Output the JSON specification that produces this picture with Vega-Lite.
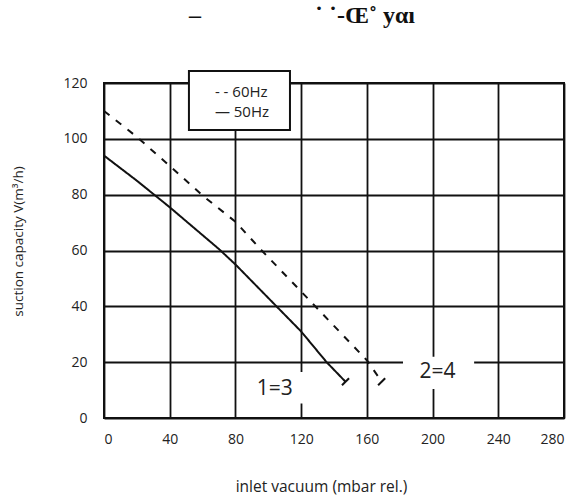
{
  "$schema": "https://vega.github.io/schema/vega-lite/v6.json",
  "width": 460,
  "height": 335,
  "autosize": {"type": "none"},
  "padding": {"left": 104, "top": 83, "right": 20, "bottom": 81},
  "background": "white",
  "title": {
    "text": "–\u00a0\u00a0\u00a0\u00a0\u00a0\u00a0\u00a0\u00a0\u00a0\u00a0\u00a0\u00a0\u00a0\u00a0\u00a0\u00a0\u00a0\u00a0\u00a0˙\u00a0˙-Œ˚ yαı",
    "anchor": "middle",
    "dx": -32,
    "offset": 42,
    "font": "Liberation Serif",
    "fontSize": 24,
    "fontWeight": "bold",
    "color": "#111"
  },
  "config": {
    "view": {"stroke": "#111", "strokeWidth": 2},
    "axis": {
      "grid": true,
      "gridColor": "#111",
      "gridWidth": 1.8,
      "gridOpacity": 1,
      "domain": false,
      "ticks": false,
      "labelFont": "Open Sans",
      "labelFontSize": 14,
      "labelColor": "#222",
      "titleFont": "Open Sans",
      "titleFontSize": 13.5,
      "titleFontWeight": "normal",
      "titleColor": "#222"
    }
  },
  "datasets": {
    "curves": [
      {"freq": "50Hz", "vacuum": 0, "capacity": 94},
      {"freq": "50Hz", "vacuum": 20, "capacity": 85},
      {"freq": "50Hz", "vacuum": 40, "capacity": 75.5},
      {"freq": "50Hz", "vacuum": 58, "capacity": 66.5},
      {"freq": "50Hz", "vacuum": 70, "capacity": 60.5},
      {"freq": "50Hz", "vacuum": 80, "capacity": 55},
      {"freq": "50Hz", "vacuum": 105, "capacity": 40},
      {"freq": "50Hz", "vacuum": 120, "capacity": 31},
      {"freq": "50Hz", "vacuum": 135.5, "capacity": 20},
      {"freq": "50Hz", "vacuum": 147, "capacity": 13},
      {"freq": "60Hz", "vacuum": 0, "capacity": 110},
      {"freq": "60Hz", "vacuum": 20, "capacity": 100.7},
      {"freq": "60Hz", "vacuum": 40, "capacity": 90.3},
      {"freq": "60Hz", "vacuum": 60, "capacity": 79.7},
      {"freq": "60Hz", "vacuum": 80, "capacity": 70.3},
      {"freq": "60Hz", "vacuum": 96, "capacity": 60},
      {"freq": "60Hz", "vacuum": 120, "capacity": 45.3},
      {"freq": "60Hz", "vacuum": 140, "capacity": 33},
      {"freq": "60Hz", "vacuum": 160, "capacity": 20.7},
      {"freq": "60Hz", "vacuum": 169, "capacity": 13}
    ],
    "labels": [
      {"label": "1=3", "vacuum": 104, "capacity": 10.4},
      {"label": "2=4", "vacuum": 203, "capacity": 16.4}
    ],
    "legend": [
      {"entry": "- - 60Hz", "vacuum": 67.5, "capacity": 116.6},
      {"entry": "— 50Hz", "vacuum": 67.5, "capacity": 109.6}
    ]
  },
  "layer": [
    {
      "data": {"name": "curves"},
      "mark": {"type": "line", "color": "#111", "strokeWidth": 2},
      "encoding": {
        "x": {
          "field": "vacuum",
          "type": "quantitative",
          "scale": {"domain": [0, 280], "nice": false},
          "axis": {
            "values": [0, 40, 80, 120, 160, 200, 240, 280],
            "labelPadding": 14,
            "title": "inlet vacuum (mbar rel.)",
            "titleFontSize": 15.5,
            "titlePadding": 33,
            "titleX": 217
          }
        },
        "y": {
          "field": "capacity",
          "type": "quantitative",
          "scale": {"domain": [0, 120], "nice": false},
          "axis": {
            "values": [0, 20, 40, 60, 80, 100, 120],
            "labelPadding": 17,
            "title": "suction capacity V(m³/h)",
            "titlePadding": 37,
            "titleY": 158
          }
        },
        "strokeDash": {
          "field": "freq",
          "type": "nominal",
          "scale": {"domain": ["60Hz", "50Hz"], "range": [[7, 8], [1, 0]]},
          "legend": null
        },
        "order": {"field": "vacuum", "type": "quantitative"}
      }
    },
    {
      "data": {"name": "curves"},
      "transform": [
        {"joinaggregate": [{"op": "max", "field": "vacuum", "as": "maxv"}], "groupby": ["freq"]},
        {"filter": "datum.vacuum === datum.maxv"}
      ],
      "mark": {"type": "point", "shape": "stroke", "angle": 315, "size": 100, "strokeWidth": 2, "color": "#111", "opacity": 1},
      "encoding": {
        "x": {"field": "vacuum", "type": "quantitative"},
        "y": {"field": "capacity", "type": "quantitative"}
      }
    },
    {
      "data": {"values": [{}]},
      "mark": {"type": "rect", "fill": "white"},
      "encoding": {
        "x": {"datum": 83}, "x2": {"datum": 124},
        "y": {"datum": 16.5}, "y2": {"datum": 5.2}
      }
    },
    {
      "data": {"values": [{}]},
      "mark": {"type": "rect", "fill": "white"},
      "encoding": {
        "x": {"datum": 182}, "x2": {"datum": 225.3},
        "y": {"datum": 21.9}, "y2": {"datum": 10.4}
      }
    },
    {
      "data": {"name": "labels"},
      "mark": {"type": "text", "font": "Open Sans", "fontSize": 21, "color": "#222", "align": "center", "baseline": "middle"},
      "encoding": {
        "x": {"field": "vacuum", "type": "quantitative"},
        "y": {"field": "capacity", "type": "quantitative"},
        "text": {"field": "label"}
      }
    },
    {
      "data": {"values": [{}]},
      "mark": {"type": "rect", "fill": "white", "stroke": "#111", "strokeWidth": 2},
      "encoding": {
        "x": {"datum": 51.7}, "x2": {"datum": 113.2},
        "y": {"datum": 124.3}, "y2": {"datum": 103.2}
      }
    },
    {
      "data": {"name": "legend"},
      "mark": {"type": "text", "font": "Open Sans", "fontSize": 15, "color": "#222", "align": "left", "baseline": "middle"},
      "encoding": {
        "x": {"field": "vacuum", "type": "quantitative"},
        "y": {"field": "capacity", "type": "quantitative"},
        "text": {"field": "entry"}
      }
    }
  ]
}
